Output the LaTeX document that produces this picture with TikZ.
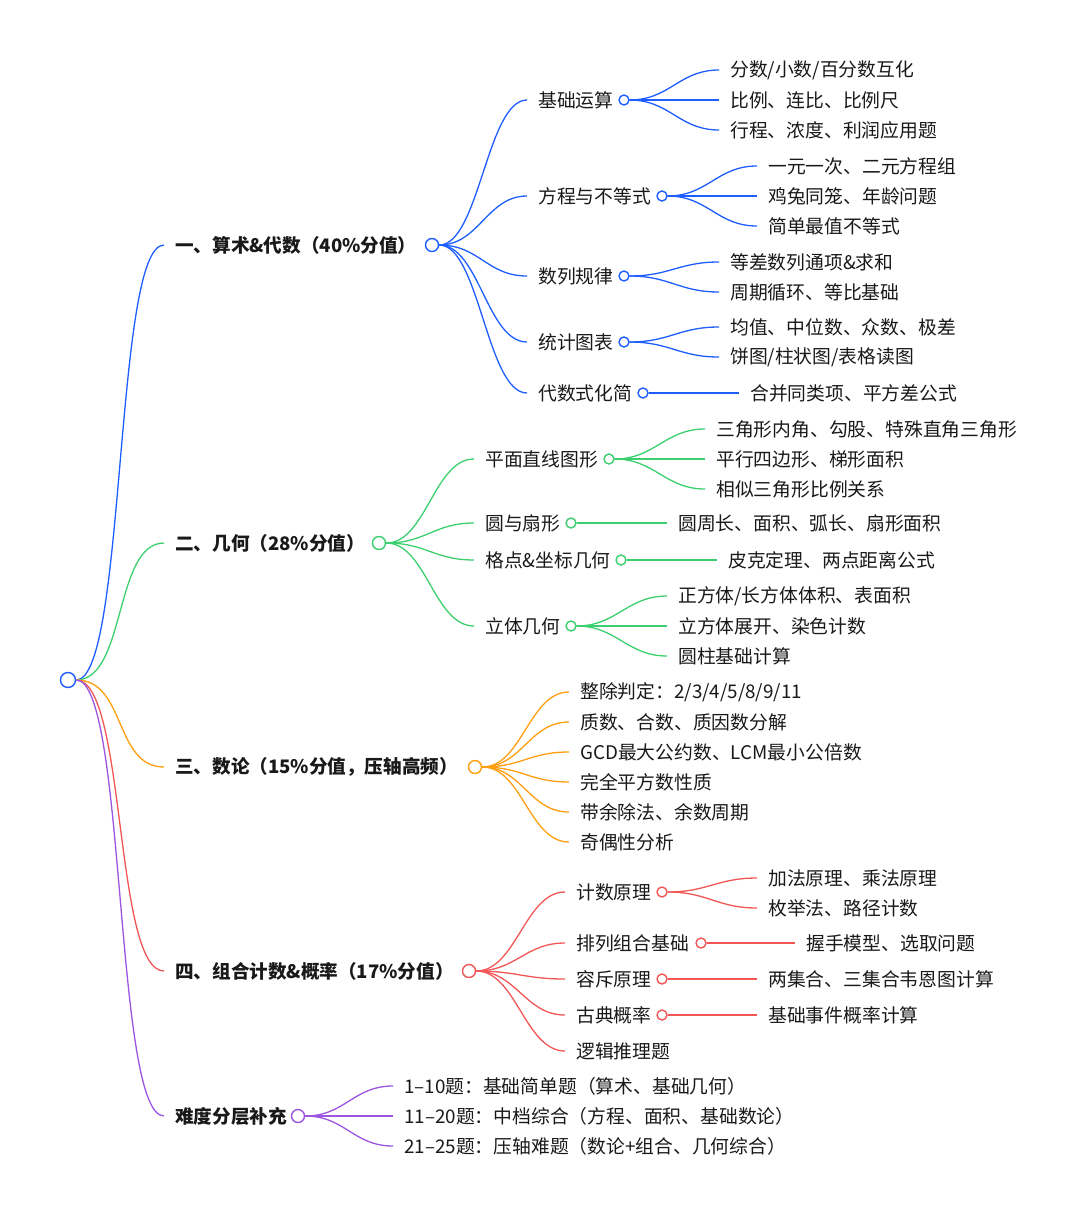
\documentclass[tikz,border=0pt]{standalone}
\usepackage{fontspec}
\setmainfont{Noto Sans CJK SC}
\definecolor{cb}{HTML}{1E5EFF}
\definecolor{cg}{HTML}{3CCF6E}
\definecolor{co}{HTML}{FF9F0F}
\definecolor{cr}{HTML}{F25656}
\definecolor{cp}{HTML}{9B55E0}
\newcommand{\lk}[4]{\draw[#1,line width=1.3pt] (#2.east) .. controls +(#4,0) and +(-#4,0) .. ([xshift=-11pt]#3.west);}
\begin{document}
\begin{tikzpicture}[x=1pt,y=-1pt,
  lab/.style={anchor=west,inner sep=0pt,font=\fontsize{18.8}{22}\selectfont,text=black!90},
  big/.style={lab,font=\fontsize{18.6}{22}\selectfont\bfseries},
  dot/.style={circle,draw=#1,fill=white,line width=1.4pt,inner sep=0pt,minimum size=10pt},
  dotb/.style={dot=#1,minimum size=13pt},
]
\useasboundingbox (0,0) rectangle (1080,1215);
\node[dot=cb,minimum size=15pt] (root) at (68,680) {};
% level 1
\node[big] (A) at (175,245) {一、算术\&代数（40\%分值）};
\node[dotb=cb] (cA) at (432,245) {};
\node[big] (B) at (175,543) {二、几何（28\%分值）};
\node[dotb=cg] (cB) at (379,543) {};
\node[big] (C) at (175,767) {三、数论（15\%分值，压轴高频）};
\node[dotb=co] (cC) at (475,767) {};
\node[big] (D) at (175,971) {四、组合计数\&概率（17\%分值）};
\node[dotb=cr] (cD) at (469,971) {};
\node[big] (E) at (175,1116) {难度分层补充};
\node[dotb=cp] (cE) at (298,1116) {};
\foreach \n/\c in {A/cb,B/cg,C/co,D/cr,E/cp}{\lk{\c}{root}{\n}{50}}
% blue
\node[lab] (A1) at (538,100) {基础运算}; \node[dot=cb] (cA1) at (624,100) {};
\node[lab] (A2) at (538,196) {方程与不等式}; \node[dot=cb] (cA2) at (662,196) {};
\node[lab] (A3) at (538,276) {数列规律}; \node[dot=cb] (cA3) at (624,276) {};
\node[lab] (A4) at (538,342) {统计图表}; \node[dot=cb] (cA4) at (624,342) {};
\node[lab] (A5) at (538,393) {代数式化简}; \node[dot=cb] (cA5) at (643,393) {};
\foreach \n in {A1,A2,A3,A4,A5}{\lk{cb}{cA}{\n}{40}}
\node[lab] (A11) at (730,70) {分数/小数/百分数互化};
\node[lab] (A12) at (730,100) {比例、连比、比例尺};
\node[lab] (A13) at (730,130) {行程、浓度、利润应用题};
\foreach \n in {A11,A12,A13}{\lk{cb}{cA1}{\n}{40}}
\node[lab] (A21) at (768,166) {一元一次、二元方程组};
\node[lab] (A22) at (768,196) {鸡兔同笼、年龄问题};
\node[lab] (A23) at (768,226) {简单最值不等式};
\foreach \n in {A21,A22,A23}{\lk{cb}{cA2}{\n}{40}}
\node[lab] (A31) at (730,262) {等差数列通项\&求和};
\node[lab] (A32) at (730,292) {周期循环、等比基础};
\foreach \n in {A31,A32}{\lk{cb}{cA3}{\n}{40}}
\node[lab] (A41) at (730,327) {均值、中位数、众数、极差};
\node[lab] (A42) at (730,357) {饼图/柱状图/表格读图};
\foreach \n in {A41,A42}{\lk{cb}{cA4}{\n}{40}}
\node[lab] (A51) at (750,393) {合并同类项、平方差公式};
\lk{cb}{cA5}{A51}{40}
% green
\node[lab] (B1) at (485,459) {平面直线图形}; \node[dot=cg] (cB1) at (609,459) {};
\node[lab] (B2) at (485,523) {圆与扇形}; \node[dot=cg] (cB2) at (571,523) {};
\node[lab] (B3) at (485,560) {格点\&坐标几何}; \node[dot=cg] (cB3) at (621,560) {};
\node[lab] (B4) at (485,626) {立体几何}; \node[dot=cg] (cB4) at (571,626) {};
\foreach \n in {B1,B2,B3,B4}{\lk{cg}{cB}{\n}{40}}
\node[lab] (B11) at (716,429) {三角形内角、勾股、特殊直角三角形};
\node[lab] (B12) at (716,459) {平行四边形、梯形面积};
\node[lab] (B13) at (716,489) {相似三角形比例关系};
\foreach \n in {B11,B12,B13}{\lk{cg}{cB1}{\n}{40}}
\node[lab] (B21) at (678,523) {圆周长、面积、弧长、扇形面积};
\lk{cg}{cB2}{B21}{40}
\node[lab] (B31) at (728,560) {皮克定理、两点距离公式};
\lk{cg}{cB3}{B31}{40}
\node[lab] (B41) at (678,596) {正方体/长方体体积、表面积};
\node[lab] (B42) at (678,626) {立方体展开、染色计数};
\node[lab] (B43) at (678,656) {圆柱基础计算};
\foreach \n in {B41,B42,B43}{\lk{cg}{cB4}{\n}{40}}
% orange
\node[lab] (C1) at (580,692) {整除判定：2/3/4/5/8/9/11};
\node[lab] (C2) at (580,722) {质数、合数、质因数分解};
\node[lab] (C3) at (580,752) {GCD最大公约数、LCM最小公倍数};
\node[lab] (C4) at (580,782) {完全平方数性质};
\node[lab] (C5) at (580,812) {带余除法、余数周期};
\node[lab] (C6) at (580,842) {奇偶性分析};
\foreach \n in {C1,C2,C3,C4,C5,C6}{\lk{co}{cC}{\n}{40}}
% red
\node[lab] (D1) at (576,892) {计数原理}; \node[dot=cr] (cD1) at (662,892) {};
\node[lab] (D2) at (576,943) {排列组合基础}; \node[dot=cr] (cD2) at (701,943) {};
\node[lab] (D3) at (576,979) {容斥原理}; \node[dot=cr] (cD3) at (662,979) {};
\node[lab] (D4) at (576,1015) {古典概率}; \node[dot=cr] (cD4) at (662,1015) {};
\node[lab] (D5) at (576,1051) {逻辑推理题};
\foreach \n in {D1,D2,D3,D4,D5}{\lk{cr}{cD}{\n}{40}}
\node[lab] (D11) at (768,878) {加法原理、乘法原理};
\node[lab] (D12) at (768,908) {枚举法、路径计数};
\foreach \n in {D11,D12}{\lk{cr}{cD1}{\n}{40}}
\node[lab] (D21) at (806,943) {握手模型、选取问题};
\lk{cr}{cD2}{D21}{40}
\node[lab] (D31) at (768,979) {两集合、三集合韦恩图计算};
\lk{cr}{cD3}{D31}{40}
\node[lab] (D41) at (768,1015) {基础事件概率计算};
\lk{cr}{cD4}{D41}{40}
% purple
\node[lab] (E1) at (404,1086) {1–10题：基础简单题（算术、基础几何）};
\node[lab] (E2) at (404,1116) {11–20题：中档综合（方程、面积、基础数论）};
\node[lab] (E3) at (404,1146) {21–25题：压轴难题（数论+组合、几何综合）};
\foreach \n in {E1,E2,E3}{\lk{cp}{cE}{\n}{40}}
\end{tikzpicture}
\end{document}
